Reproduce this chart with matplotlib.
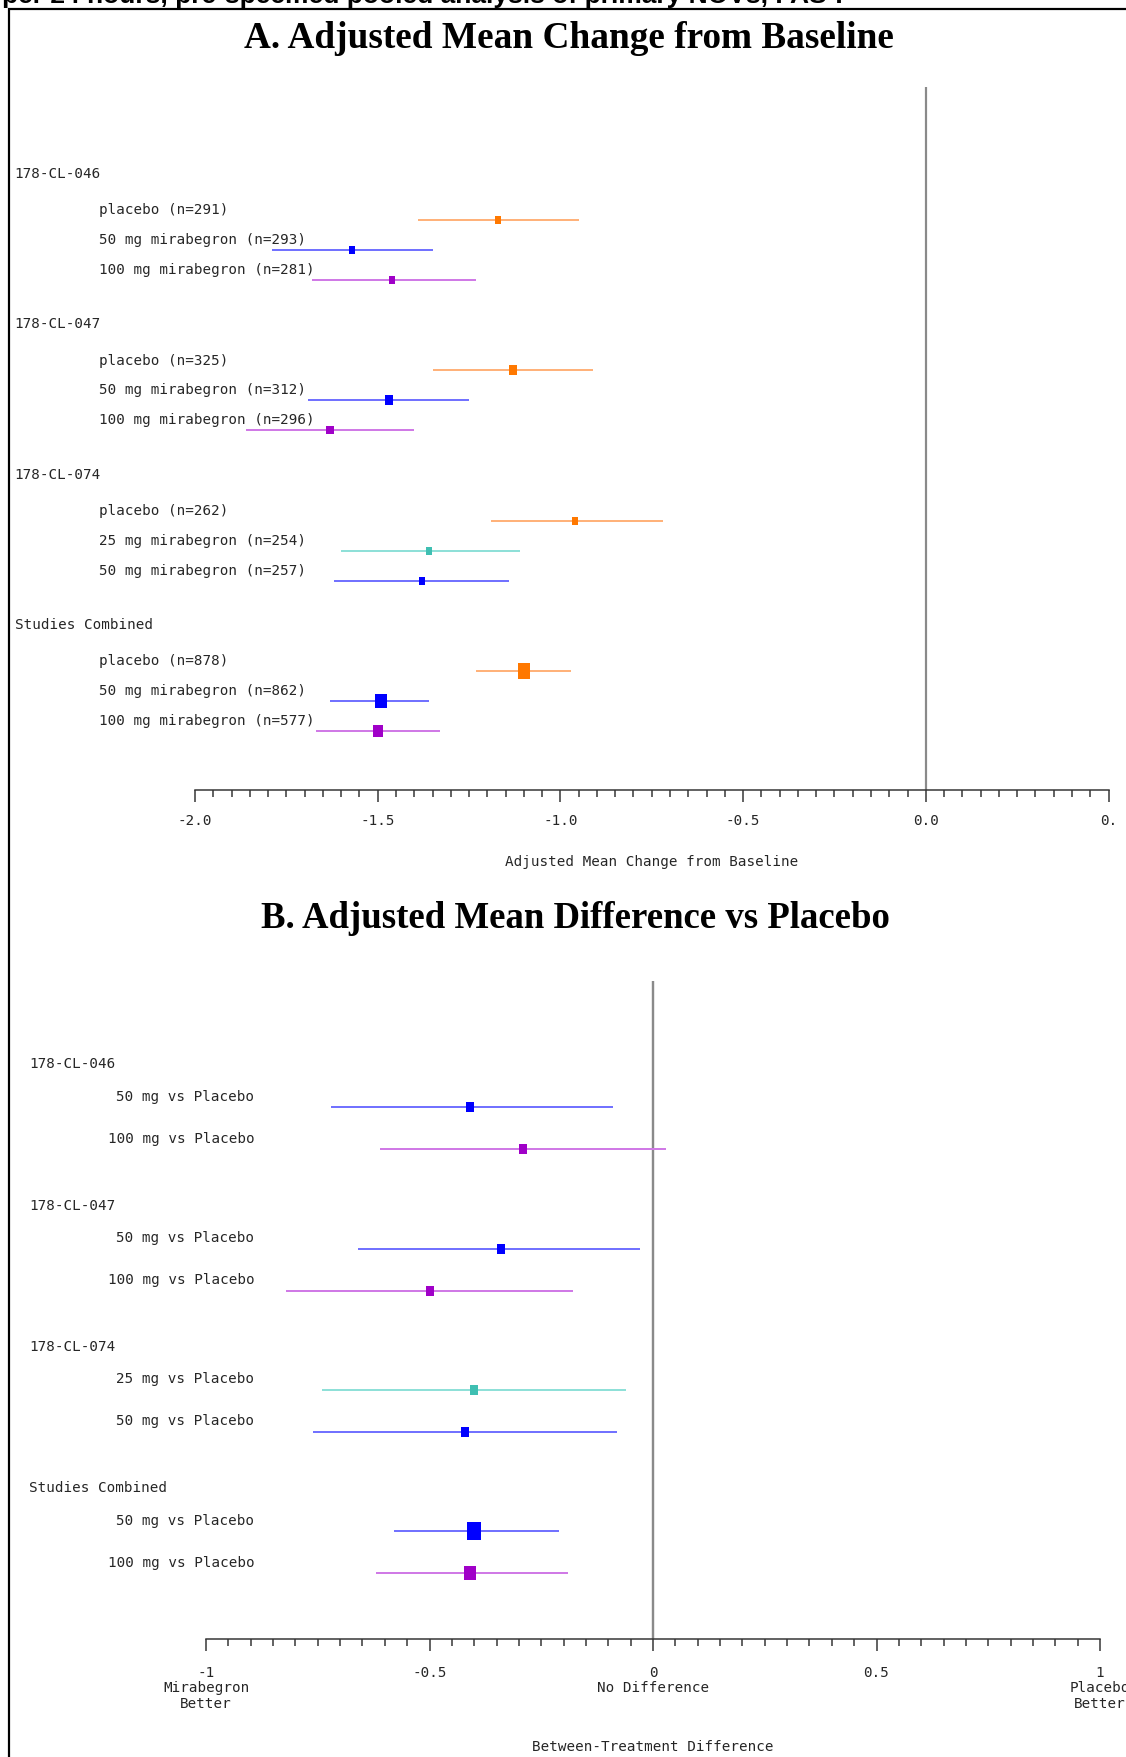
import numpy as np
import matplotlib
matplotlib.use("Agg")
import matplotlib.pyplot as plt
from matplotlib.path import Path
from matplotlib.ticker import MultipleLocator, FixedLocator, FixedFormatter
from matplotlib.transforms import blended_transform_factory
from matplotlib.patches import Rectangle

# ------------------------------------------------------------------ data
studies = ["178-CL-046", "178-CL-047", "178-CL-074", "Studies Combined"]

# Panel A: adjusted mean change from baseline
a_group = [0, 0, 0, 1, 1, 1, 2, 2, 2, 3, 3, 3]
a_treat = ["placebo", "50", "100", "placebo", "50", "100",
           "placebo", "25", "50", "placebo", "50", "100"]
a_labels = ["placebo (n=291)", "50 mg mirabegron (n=293)", "100 mg mirabegron (n=281)",
            "placebo (n=325)", "50 mg mirabegron (n=312)", "100 mg mirabegron (n=296)",
            "placebo (n=262)", "25 mg mirabegron (n=254)", "50 mg mirabegron (n=257)",
            "placebo (n=878)", "50 mg mirabegron (n=862)", "100 mg mirabegron (n=577)"]
a_n = [291, 293, 281, 325, 312, 296, 262, 254, 257, 878, 862, 577]
a_est = [-1.17, -1.57, -1.46, -1.13, -1.47, -1.63, -0.96, -1.36, -1.38, -1.10, -1.49, -1.50]
a_lo = [-1.39, -1.79, -1.68, -1.35, -1.69, -1.86, -1.19, -1.60, -1.62, -1.23, -1.63, -1.67]
a_hi = [-0.95, -1.35, -1.23, -0.91, -1.25, -1.40, -0.72, -1.11, -1.14, -0.97, -1.36, -1.33]
a_ticks = [-2.0, -1.5, -1.0, -0.5, 0.0, 0.5]
a_ticklabels = ["-2.0", "-1.5", "-1.0", "-0.5", "0.0", "0."]

# Panel B: adjusted mean difference vs placebo
b_group = [0, 0, 1, 1, 2, 2, 3, 3]
b_treat = ["50", "100", "50", "100", "25", "50", "50", "100"]
b_labels = ["50 mg vs Placebo", "100 mg vs Placebo", "50 mg vs Placebo", "100 mg vs Placebo",
            "25 mg vs Placebo", "50 mg vs Placebo", "50 mg vs Placebo", "100 mg vs Placebo"]
b_n = [293, 281, 312, 296, 254, 257, 862, 577]
b_est = [-0.41, -0.29, -0.34, -0.50, -0.40, -0.42, -0.40, -0.41]
b_lo = [-0.72, -0.61, -0.66, -0.82, -0.74, -0.76, -0.58, -0.62]
b_hi = [-0.09, 0.03, -0.03, -0.18, -0.06, -0.08, -0.21, -0.19]
b_ticks = [-1, -0.5, 0, 0.5, 1]
b_ticklabels = ["-1\nMirabegron\nBetter", "-0.5", "0\nNo Difference", "0.5", "1\nPlacebo\nBetter"]

title_a = "A. Adjusted Mean Change from Baseline"
title_b = "B. Adjusted Mean Difference vs Placebo"
xlabel_a = "Adjusted Mean Change from Baseline"
xlabel_b = "Between-Treatment Difference"
caption = "Mean Number of Micturitions per 24 hours, pre-specified pooled analysis of primary NOVs, FAS-I"

# ------------------------------------------------------------------ style
W, H, DPI = 1126, 1758, 100
PX = 72.0 / DPI  # points per pixel
MONO = "DejaVu Sans Mono"
LBL = 10.3
TXT = "#262626"
marker_col = {"placebo": "#ff7800", "25": "#3fbfb2", "50": "#0000ff", "100": "#a000c8"}
line_col = {"placebo": "#ffb27a", "25": "#8fe0d8", "50": "#7272ff", "100": "#d07ae6"}
rect = Path([(-0.4, -0.5), (0.4, -0.5), (0.4, 0.5), (-0.4, 0.5), (-0.4, -0.5)],
            [Path.MOVETO, Path.LINETO, Path.LINETO, Path.LINETO, Path.CLOSEPOLY])

fig = plt.figure(figsize=(W / DPI, H / DPI), dpi=DPI)
fig.patch.set_facecolor("white")


def fx(px):
    return px / W


def make_axes(left, right, top, bottom):
    return fig.add_axes([fx(left), 1 - bottom / H, (right - left) / W, (bottom - top) / H])


def style_axis(ax, xlim, ticks, ticklabels, top, bottom, pad_px, linesp):
    ax.set_xlim(*xlim)
    ax.set_ylim(bottom, top)
    for s in ("top", "right", "left"):
        ax.spines[s].set_visible(False)
    ax.spines["bottom"].set_color("#333333")
    ax.spines["bottom"].set_linewidth(1.5 * PX)
    ax.set_yticks([])
    ax.xaxis.set_major_locator(FixedLocator(ticks))
    ax.xaxis.set_major_formatter(FixedFormatter(ticklabels))
    ax.xaxis.set_minor_locator(MultipleLocator(0.05))
    ax.tick_params(axis="x", which="major", length=12 * PX, width=1.5 * PX, color="#333333",
                   pad=pad_px * PX, labelsize=LBL)
    ax.tick_params(axis="x", which="minor", length=7 * PX, width=1.5 * PX, color="#333333")
    for t in ax.get_xticklabels():
        t.set_fontfamily(MONO)
        t.set_color(TXT)
        t.set_linespacing(linesp)
    ax.patch.set_alpha(0)


# ---------------------------------------------------------------- Panel A
A_TOP, A_BOT = 87.5, 790.7
axA = make_axes(195, 1108.5, A_TOP, A_BOT)
style_axis(axA, (-2.0, 0.5), a_ticks, a_ticklabels, A_TOP, A_BOT, 11, 1.0)
axA.axvline(0, color="#8a8a8a", lw=2.2 * PX, zorder=1)
trA = blended_transform_factory(fig.transFigure, axA.transData)

for i in range(len(a_est)):
    g = a_group[i]
    k = i - a_group.index(g)
    y = 220.7 + g * 150.5 + k * 30
    t = a_treat[i]
    axA.plot([a_lo[i], a_hi[i]], [y, y], color=line_col[t], lw=2 * PX, solid_capstyle="butt", zorder=2)
    size = 8.7 * np.sqrt(a_n[i] / 290.0) * PX
    axA.plot([a_est[i]], [y], marker=rect, ms=size, color=marker_col[t], mec=marker_col[t],
             mew=0, ls="none", zorder=3)
    fig.text(fx(98.7), y - 10.7, a_labels[i], transform=trA, family=MONO, size=LBL,
             va="center", ha="left", color=TXT)
    if k == 0:
        fig.text(fx(14.6), y - 46.7, studies[g], transform=trA, family=MONO, size=LBL,
                 va="center", ha="left", color=TXT)

axA.set_xlabel(xlabel_a, family=MONO, size=LBL, color=TXT)
axA.xaxis.set_label_coords(0.5, -(862 - A_BOT) / (A_BOT - A_TOP))
axA.xaxis.label.set_va("center")

# ---------------------------------------------------------------- Panel B
B_TOP, B_BOT = 981.7, 1640.0
axB = make_axes(206, 1100, B_TOP, B_BOT)
style_axis(axB, (-1.0, 1.0), b_ticks, b_ticklabels, B_TOP, B_BOT, 14, 1.12)
axB.axvline(0, color="#8a8a8a", lw=2.4 * PX, zorder=1)
trB = blended_transform_factory(fig.transFigure, axB.transData)

for i in range(len(b_est)):
    g = b_group[i]
    k = i - b_group.index(g)
    y = 1108.3 + g * 141.3 + k * 42
    t = b_treat[i]
    axB.plot([b_lo[i], b_hi[i]], [y, y], color=line_col[t], lw=2 * PX, solid_capstyle="butt", zorder=2)
    size = 10.5 * np.sqrt(b_n[i] / 290.0) * PX
    axB.plot([b_est[i]], [y], marker=rect, ms=size, color=marker_col[t], mec=marker_col[t],
             mew=0, ls="none", zorder=3)
    fig.text(fx(254.5), y - 11.5, b_labels[i], transform=trB, family=MONO, size=LBL,
             va="center", ha="right", color=TXT)
    if k == 0:
        fig.text(fx(29), y - 44, studies[g], transform=trB, family=MONO, size=LBL,
                 va="center", ha="left", color=TXT)

axB.set_xlabel(xlabel_b, family=MONO, size=LBL, color=TXT)
axB.xaxis.set_label_coords(0.5, -(1746.7 - B_BOT) / (B_BOT - B_TOP))
axB.xaxis.label.set_va("center")

# ---------------------------------------------------------------- titles, frame
fig.text(fx(569), 1 - 38 / H, title_a, family="Liberation Serif", weight="bold", size=26.8,
         ha="center", va="center")
fig.text(fx(575), 1 - 919 / H, title_b, family="Liberation Serif", weight="bold", size=26.5,
         ha="center", va="center")
fig.text(fx(843), 1 - 3 / H, caption, family="Liberation Sans", weight="bold", size=19,
         ha="right", va="baseline")

fig.add_artist(Rectangle((fx(9), -0.05), 1.2, 1 - 10 / H + 0.05, transform=fig.transFigure,
                         fill=False, edgecolor="black", lw=2.2 * PX))

fig.savefig("out.png", dpi=DPI, facecolor="white")
